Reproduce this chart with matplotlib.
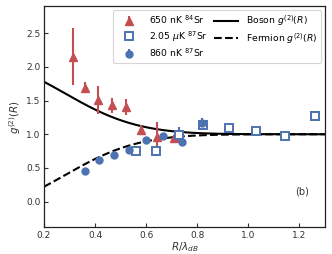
import numpy as np
import matplotlib
matplotlib.use("Agg")
import matplotlib.pyplot as plt

# 650 nK 84Sr (bosons)
r_84 = [0.312, 0.36, 0.41, 0.465, 0.521, 0.58, 0.643, 0.709]
g_84 = [2.15, 1.69, 1.51, 1.43, 1.40, 1.07, 0.96, 0.94]
e_84 = [0.42, 0.08, 0.21, 0.11, 0.12, 0.07, 0.22, 0.05]

# 2.05 uK 87Sr
r_87h = [0.559, 0.638, 0.73, 0.823, 0.924, 1.03, 1.142, 1.261]
g_87h = [0.75, 0.75, 0.99, 1.13, 1.09, 1.05, 0.97, 1.275]
e_87h = [0.03, 0.03, 0.12, 0.06, 0.06, 0.03, 0.06, 0.06]

# 860 nK 87Sr
r_87c = [0.36, 0.414, 0.473, 0.534, 0.598, 0.667, 0.739, 0.817]
g_87c = [0.46, 0.625, 0.695, 0.765, 0.92, 0.98, 0.89, 1.16]
e_87c = [0.02, 0.02, 0.02, 0.03, 0.04, 0.03, 0.05, 0.08]

red = '#C44E52'
blue = '#4C72B0'

plt.rcParams['font.family'] = 'DejaVu Sans'
plt.rcParams['mathtext.fontset'] = 'dejavusans'

fig = plt.figure(figsize=(3.32, 2.54), dpi=100)
ax = fig.add_axes([0.1325, 0.105, 0.8465, 0.871])

# theory curves
R = np.linspace(0.2, 1.3, 300)
boson = 1 + np.exp(-2 * np.pi * R**2)
fermion = 1 - np.exp(-2 * np.pi * R**2)

h1 = ax.errorbar(r_84, g_84, yerr=e_84, fmt='^', color=red, ms=5.5, elinewidth=1.5,
                 capsize=0, label=r'650 nK $^{84}$Sr', zorder=3)
h2 = ax.errorbar(r_87h, g_87h, yerr=e_87h, fmt='s', color=blue, mfc='white', mec=blue,
                 mew=1.4, ms=5.5, elinewidth=1.5, capsize=0,
                 label=r'2.05 $\mu$K $^{87}$Sr', zorder=3)
h3 = ax.errorbar(r_87c, g_87c, yerr=e_87c, fmt='o', color=blue, ms=5, elinewidth=1.5,
                 capsize=0, label=r'860 nK $^{87}$Sr', zorder=3)
h4, = ax.plot(R, boson, 'k-', lw=1.5, label=r'Boson $g^{(2)}(R)$', zorder=2)
h5, = ax.plot(R, fermion, 'k--', lw=1.5, label=r'Fermion $g^{(2)}(R)$', zorder=2)

ax.set_xlim(0.2, 1.3)
ax.set_ylim(-0.38, 2.9)
ax.set_xticks([0.2, 0.4, 0.6, 0.8, 1.0, 1.2])
ax.set_yticks([0.0, 0.5, 1.0, 1.5, 2.0, 2.5])
ax.tick_params(direction='in', labelsize=6.5, length=3, width=0.8, pad=2.5,
               colors='#333333', labelcolor='#333333')
for s in ax.spines.values():
    s.set_linewidth(0.9)
    s.set_color('#222222')

ax.set_xlabel(r'$R/\lambda_{dB}$', fontsize=7.5, labelpad=0, color='#333333')
ax.set_ylabel(r'$g^{(2)}(R)$', fontsize=7.5, labelpad=2, color='#333333')

ax.text(0.918, 0.16, '(b)', transform=ax.transAxes, fontsize=7,
        ha='center', va='center', color='#333333')

leg = ax.legend([h1, h2, h3, h4, h5],
                [h.get_label() for h in (h1, h2, h3, h4, h5)],
                ncol=2, loc='upper right', fontsize=6.7, frameon=True,
                handlelength=2.6, columnspacing=0.6, handletextpad=0.9,
                borderaxespad=0.4, labelspacing=0.3)
leg.get_frame().set_edgecolor('#cccccc')
leg.get_frame().set_linewidth(0.8)

fig.savefig('out.png', dpi=100)
